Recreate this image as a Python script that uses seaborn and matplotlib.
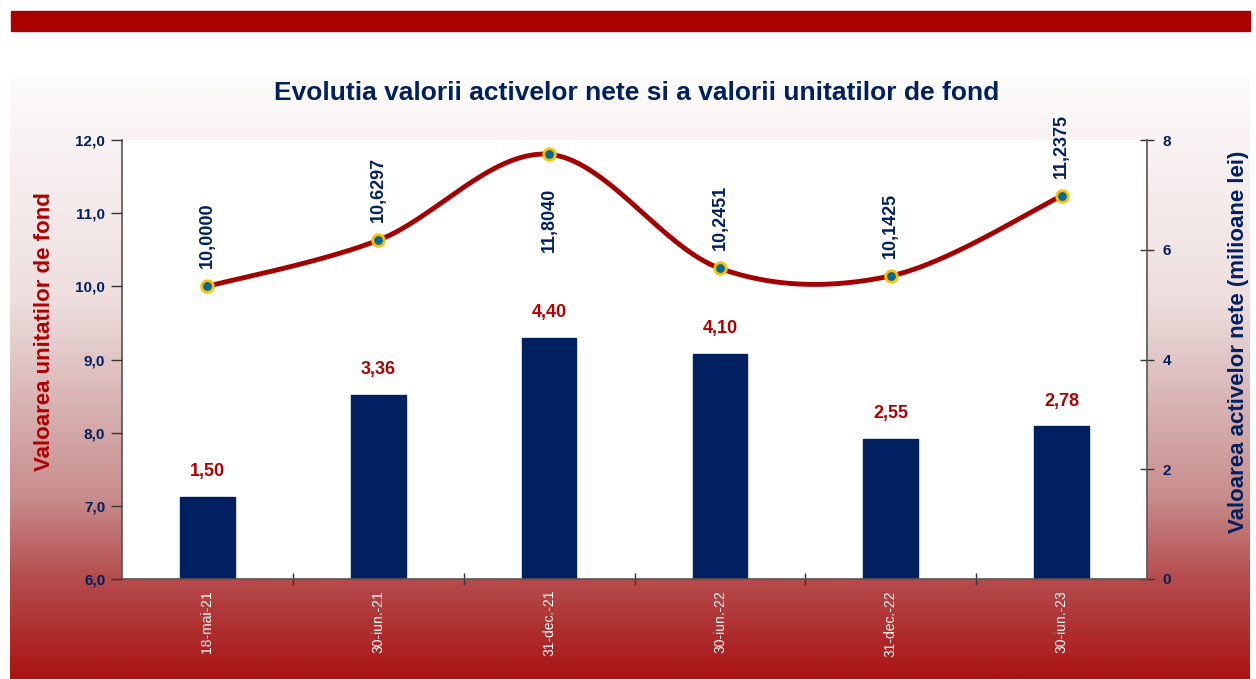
import numpy as np
import pandas as pd
import seaborn as sns
import matplotlib
matplotlib.use("Agg")
from matplotlib import pyplot as plt
from matplotlib.colors import LinearSegmentedColormap
from matplotlib.patches import Rectangle

# data
dates = ["18-mai-21", "30-iun.-21", "31-dec.-21", "30-iun.-22", "31-dec.-22", "30-iun.-23"]
active_nete = [1.50, 3.36, 4.40, 4.10, 2.55, 2.78]          # milioane lei (bars, right axis)
valoare_unitate = [10.0000, 10.6297, 11.8040, 10.2451, 10.1425, 11.2375]  # line, left axis
label_below = [False, False, True, False, False, False]

NAVY = "#002060"
RED = "#a80000"

sns.set_theme(style="white")
plt.rcParams["font.family"] = ["Liberation Sans", "DejaVu Sans"]

fig = plt.figure(figsize=(12.56, 6.79), dpi=100)
fig.patch.set_facecolor("white")

# gradient panel behind everything
bg = fig.add_axes([10 / 1256, 0, 1240 / 1256, 601 / 679], zorder=-5)
grad_cmap = LinearSegmentedColormap.from_list(
    "bg", [(0.0, (253/255, 251/255, 251/255)), (0.37, (238/255, 222/255, 222/255)),
           (0.53, (218/255, 182/255, 182/255)), (0.7, (200/255, 140/255, 140/255)),
           (0.83, (182/255, 78/255, 78/255)), (1.0, (170/255, 20/255, 20/255))])
bg.imshow(np.linspace(0, 1, 300).reshape(-1, 1), aspect="auto", cmap=grad_cmap,
          extent=[0, 1, 0, 1], origin="upper")
bg.axis("off")

# red band at top
fig.patches.append(Rectangle((11 / 1256, 1 - 31 / 679), 1239 / 1256, 20 / 679,
                             transform=fig.transFigure, color="#aa0000", zorder=0))

ax = fig.add_axes([122 / 1256, 100 / 679, 1025 / 1256, 439 / 679])
ax.set_facecolor("white")
df = pd.DataFrame({"data": dates, "active": active_nete, "unitate": valoare_unitate})

sns.barplot(data=df, x="data", y="active", color=NAVY, saturation=1, width=0.32,
            edgecolor=NAVY, ax=ax)

# line on the twin axis (left scale)
ax2 = ax.twinx()

ax.set_ylim(0, 8)
ax.set_xlim(-0.5, 5.5)
ax.set_yticks([0, 2, 4, 6, 8])
ax.yaxis.tick_right()
ax.yaxis.set_label_position("right")
ax.set_yticklabels([str(v) for v in [0, 2, 4, 6, 8]])
ax.tick_params(axis="y", which="both", right=True, left=False, labelright=True,
               labelleft=False, direction="inout", length=10,
               width=1, color="#333333", labelsize=11, labelcolor=NAVY, pad=6)
for t in ax.get_yticklabels():
    t.set_fontweight("bold")
ax.set_ylabel("Valoarea activelor nete (milioane lei)", color=NAVY, fontsize=16,
              fontweight="bold")
ax.yaxis.set_label_coords(1.079, 0.54)
ax.set_xlabel("")
ax.set_xticks(range(len(dates)))
ax.set_xticklabels(dates, rotation=90, color="white", fontsize=10, va="top")
ax.tick_params(axis="x", length=0, pad=8)
ax.set_xticks([0.5, 1.5, 2.5, 3.5, 4.5], minor=True)
ax.tick_params(axis="x", which="minor", bottom=True, direction="inout", length=8,
               width=1, color="#333333")

for i, v in enumerate(active_nete):
    ax.annotate(f"{v:.2f}".replace(".", ","), (i, v), xytext=(0, 12),
                textcoords="offset points", ha="center", va="bottom", color="#b00000",
                fontsize=13, fontweight="bold")

for s in ["left", "right", "bottom"]:
    ax.spines[s].set_visible(True)
    ax.spines[s].set_color("#555555")
    ax.spines[s].set_linewidth(1.2)
ax.spines["top"].set_visible(False)

ax2.set_ylim(6, 12)
ax2.yaxis.tick_left()
ax2.yaxis.set_label_position("left")
ax2.set_yticks([6, 7, 8, 9, 10, 11, 12])
ax2.set_yticklabels([f"{v:.1f}".replace(".", ",") for v in [6, 7, 8, 9, 10, 11, 12]])
ax2.tick_params(axis="y", left=True, right=False, labelleft=True, labelright=False,
                direction="out", length=8, width=1,
                color="#333333", labelsize=11, labelcolor=NAVY, pad=4)
for t in ax2.get_yticklabels():
    t.set_fontweight("bold")
ax2.set_ylabel("Valoarea unitatilor de fond", color="#b00000", fontsize=16,
               fontweight="bold")
ax2.yaxis.set_label_coords(-0.065, 0.563)
for s in ax2.spines.values():
    s.set_visible(False)

# smoothed line (Catmull-Rom through the points, like Excel's smooth line)
xs = np.arange(len(valoare_unitate), dtype=float)
ys = np.array(valoare_unitate)
px = np.concatenate([[xs[0]], xs, [xs[-1]]])
py = np.concatenate([[ys[0]], ys, [ys[-1]]])
cx, cy = [], []
t = np.linspace(0, 1, 60)
for i in range(1, len(px) - 2):
    p0 = np.array([px[i], py[i]])
    p3 = np.array([px[i + 1], py[i + 1]])
    c1 = p0 + (np.array([px[i + 1], py[i + 1]]) - np.array([px[i - 1], py[i - 1]])) / 6
    c2 = p3 - (np.array([px[i + 2], py[i + 2]]) - np.array([px[i], py[i]])) / 6
    b = ((1 - t) ** 3)[:, None] * p0 + (3 * (1 - t) ** 2 * t)[:, None] * c1 \
        + (3 * (1 - t) * t ** 2)[:, None] * c2 + (t ** 3)[:, None] * p3
    cx.extend(b[:, 0])
    cy.extend(b[:, 1])
curve = pd.DataFrame({"x": cx, "y": cy})
sns.lineplot(data=curve, x="x", y="y", sort=False, color="#a50000", linewidth=3.5,
             ax=ax2, estimator=None)
sns.scatterplot(x=xs, y=ys, color="#006b9a", edgecolor="#ffc000", linewidth=2, s=70,
                zorder=5, ax=ax2)
ax2.set_xlim(-0.5, 5.5)
ax2.set_xlabel("")

for i, v in enumerate(valoare_unitate):
    txt = f"{v:.4f}".replace(".", ",")
    if label_below[i]:
        ax2.annotate(txt, (i, v), xytext=(0, -24), textcoords="offset points", ha="center",
                     va="top", rotation=90, color=NAVY, fontsize=13, fontweight="bold")
    else:
        ax2.annotate(txt, (i, v), xytext=(0, 13), textcoords="offset points", ha="center",
                     va="bottom", rotation=90, color=NAVY, fontsize=13, fontweight="bold")

fig.text(0.5 + 9 / 1256, 1 - 93 / 679, "Evolutia valorii activelor nete si a valorii unitatilor de fond",
         ha="center", va="center", color=NAVY, fontsize=19, fontweight="bold")

fig.savefig("out.png", dpi=100)
